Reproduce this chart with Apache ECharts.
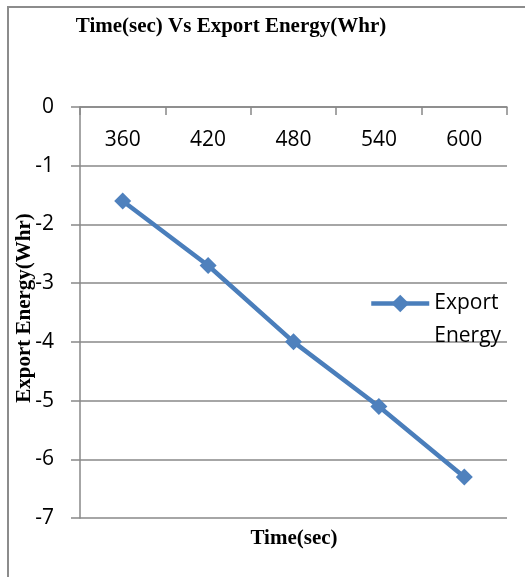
<!DOCTYPE html>
<html>
<head>
<meta charset="utf-8">
<script src="https://cdn.jsdelivr.net/npm/echarts@6/dist/echarts.min.js"></script>
<style>html,body{margin:0;padding:0;background:#fff;}#c{width:525px;height:577px;}</style>
</head>
<body>
<div id="c"></div>
<script>
const categories = ['360', '420', '480', '540', '600'];
const exportEnergy = [-1.6, -2.7, -4.0, -5.1, -6.3];
const seriesName = 'Export Energy';
const chartTitle = 'Time(sec) Vs Export Energy(Whr)';
const xTitle = 'Time(sec)';
const yTitle = 'Export Energy(Whr)';

const chart = echarts.init(document.getElementById('c'), null, {renderer: 'canvas'});
const serif = '"Liberation Serif", "Times New Roman", serif';
const sans = '"Open Sans", "Liberation Sans", sans-serif';
const gridColor = '#888888';

chart.setOption({
  animation: false,
  backgroundColor: '#ffffff',
  graphic: [
    {type: 'rect', shape: {x: 8, y: 7, width: 700, height: 700}, style: {fill: 'none', stroke: '#8c8c8c', lineWidth: 2}, z: -10},
    {type: 'text', x: 231, y: 27, style: {text: chartTitle, font: 'bold 21px ' + serif, fill: '#000', align: 'center', verticalAlign: 'middle'}},
    {type: 'text', x: 294, y: 539, style: {text: xTitle, font: 'bold 21px ' + serif, fill: '#000', align: 'center', verticalAlign: 'middle'}},
    {type: 'text', x: 25, y: 308, rotation: Math.PI / 2, style: {text: yTitle, font: 'bold 21px ' + serif, fill: '#000', align: 'center', verticalAlign: 'middle'}}
  ],
  grid: {left: 80, right: 18, top: 107, bottom: 59, containLabel: false},
  legend: {
    show: true,
    data: [seriesName],
    left: 369,
    top: 254,
    padding: 0,
    itemWidth: 58,
    itemHeight: 22,
    itemGap: 4,
    lineStyle: {width: 4.5, color: '#4A7EBB'},
    itemStyle: {color: '#4F81BD'},
    formatter: function () { return '\nExport\nEnergy'; },
    textStyle: {fontFamily: sans, fontSize: 21, color: '#000', lineHeight: 33}
  },
  xAxis: {
    type: 'category',
    position: 'top',
    data: categories,
    boundaryGap: true,
    axisLine: {show: true, lineStyle: {color: gridColor, width: 1.5}},
    axisTick: {show: true, inside: true, length: 8, lineStyle: {color: gridColor, width: 1.5}},
    axisLabel: {inside: true, margin: 23, fontFamily: sans, fontSize: 21, color: '#000'},
    splitLine: {show: false}
  },
  yAxis: {
    type: 'value',
    min: -7,
    max: 0,
    interval: 1,
    axisLine: {show: true, lineStyle: {color: gridColor, width: 1.5}},
    axisTick: {show: true, inside: false, length: 9, lineStyle: {color: gridColor, width: 1.5}},
    axisLabel: {margin: 26, fontFamily: sans, fontSize: 21, color: '#000'},
    splitLine: {show: true, lineStyle: {color: gridColor, width: 1.5}}
  },
  series: [{
    name: seriesName,
    type: 'line',
    data: exportEnergy,
    symbol: 'diamond',
    symbolSize: 17,
    color: '#4F81BD',
    lineStyle: {color: '#4A7EBB', width: 4.5},
    itemStyle: {color: '#4F81BD'}
  }]
});
</script>
</body>
</html>
